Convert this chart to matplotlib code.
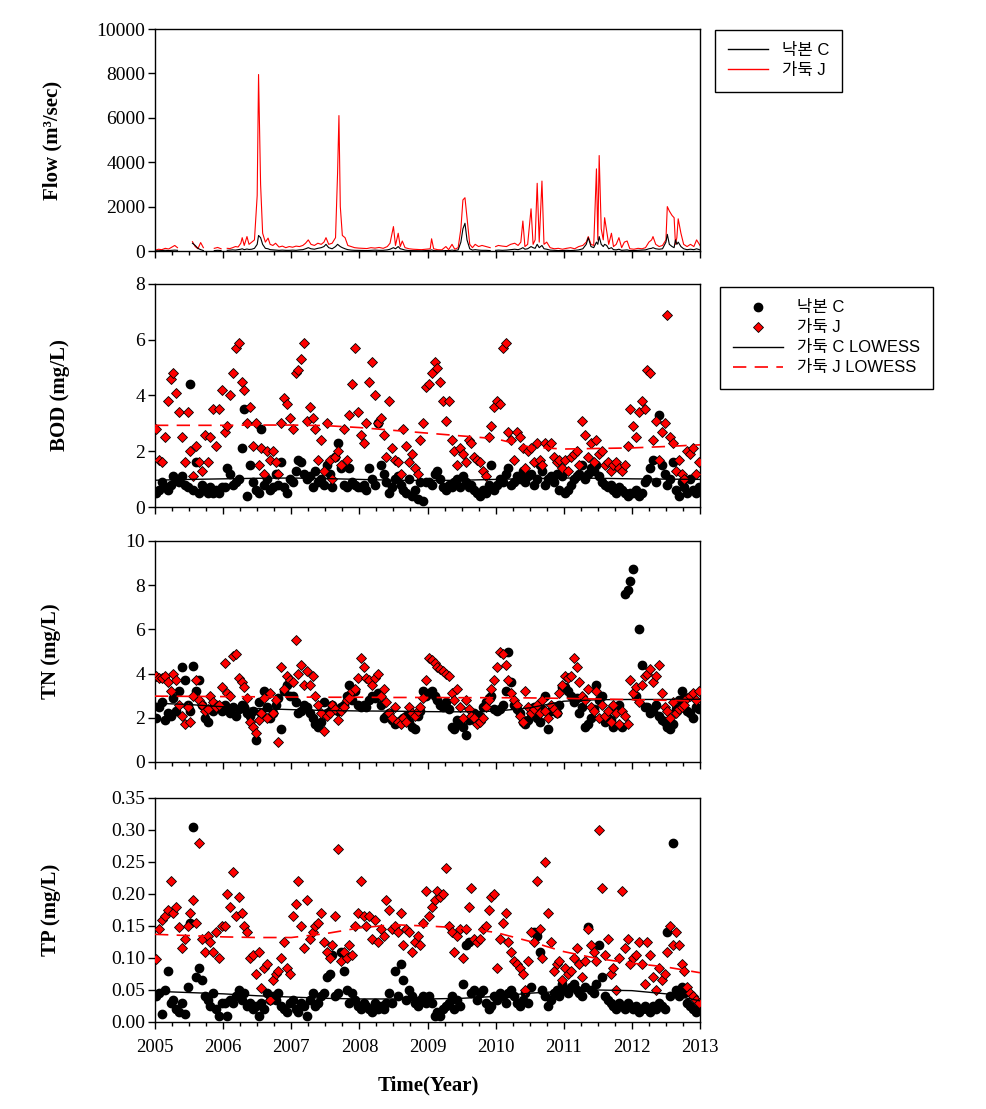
import numpy as np
import matplotlib
matplotlib.use('Agg')
import matplotlib.pyplot as plt
from matplotlib.ticker import MultipleLocator, FormatStrFormatter
from matplotlib.lines import Line2D

nan = np.nan

# ---- flow (irregular dates, nan = missing record) ----
flow_year = [
    2005.00, 2005.05, 2005.10, 2005.15, 2005.20, 2005.25, 2005.29, 2005.33, 2005.36,
    2005.55, 2005.59, 2005.63, 2005.67, 2005.71, 2005.74,
    2005.87, 2005.92, 2005.97, 2006.01,
    2006.06, 2006.10, 2006.14, 2006.18, 2006.22, 2006.26, 2006.28, 2006.31, 2006.35, 2006.38, 2006.42, 2006.46, 2006.50,
    2006.52, 2006.55, 2006.58, 2006.62, 2006.66, 2006.69, 2006.73, 2006.77, 2006.82, 2006.87, 2006.92, 2006.97,
    2007.02, 2007.07, 2007.12, 2007.17, 2007.21, 2007.25, 2007.29, 2007.34, 2007.39, 2007.44, 2007.48, 2007.51,
    2007.55, 2007.60, 2007.65, 2007.68, 2007.70, 2007.72, 2007.75, 2007.79, 2007.83, 2007.88, 2007.93, 2007.99,
    2008.05, 2008.11, 2008.17, 2008.23, 2008.29, 2008.35, 2008.41, 2008.45, 2008.50, 2008.53,
    2008.57, 2008.60, 2008.63, 2008.67, 2008.73, 2008.79, 2008.85, 2008.91, 2008.97,
    2009.04, 2009.06, 2009.09, 2009.15, 2009.21, 2009.27, 2009.31, 2009.36, 2009.40, 2009.45, 2009.49,
    2009.52, 2009.55, 2009.58, 2009.62, 2009.66, 2009.70, 2009.75, 2009.80, 2009.86, 2009.92, 2009.96,
    2010.00, 2010.04, 2010.10, 2010.16, 2010.22, 2010.28, 2010.33, 2010.37, 2010.40, 2010.43, 2010.47, 2010.52,
    2010.55, 2010.58, 2010.61, 2010.64, 2010.68, 2010.71, 2010.75, 2010.80, 2010.86, 2010.92, 2010.98,
    2011.04, 2011.10, 2011.16, 2011.22, 2011.28, 2011.33, 2011.36, 2011.40, 2011.44, 2011.48, 2011.50, 2011.52, 2011.55,
    2011.58, 2011.60, 2011.63, 2011.66, 2011.70, 2011.73, 2011.77, 2011.81, 2011.85, 2011.89, 2011.93, 2011.97,
    2012.03, 2012.09, 2012.15, 2012.20, 2012.25, 2012.29, 2012.31, 2012.35, 2012.40, 2012.45, 2012.50, 2012.52, 2012.55,
    2012.59, 2012.62, 2012.64, 2012.66, 2012.68, 2012.72, 2012.76, 2012.81, 2012.86, 2012.91, 2012.95, 2013.00,
]
flow_j = [
    30, 80, 60, 120, 90, 180, 250, 150, nan,
    420, 200, 100, 380, 150, nan,
    120, 160, 100, nan,
    120, 110, 150, 200, 180, 350, 600, 250, 650, 300, 400, 500, 2500,
    7950, 3000, 800, 400, 580, 300, 250, 350, 180, 220, 150, 200,
    170, 220, 200, 250, 350, 500, 300, 250, 350, 300, 400, 600,
    300, 350, 600, 3500, 6100, 2000, 700, 600, 250, 200, 150, 130,
    120, 110, 150, 130, 160, 120, 200, 350, 1100, 250,
    800, 200, 450, 150, 100, 80, 70, 60, 80,
    100, 550, 100, 60, 50, 200, 60, 300, 80, 150, 1000,
    2300, 2400, 1500, 300, 150, 300, 200, 250, 200, 150, nan,
    200, 250, 220, 200, 300, 350, 250, 400, 1350, 200, 300, 1900,
    300, 500, 3050, 400, 3150, 300, 400, 150, 100, 120, 80,
    120, 150, 100, 200, 250, 400, 650, 300, 250, 3700, 500, 4300, 1000,
    500, 1500, 900, 300, 800, 200, 300, 600, 150, 400, 450, 100,
    80, 120, 100, 150, 400, 500, 650, 300, 200, 250, 500, 2000, 1800,
    1600, 1500, 300, 600, 1450, 800, 300, 200, 300, 200, 500, 250,
]
flow_c = [
    5, 10, 20, 30, 20, 30, 40, 30, nan,
    350, 250, 120, 60, 20, nan,
    20, 30, 20, nan,
    30, 40, 50, 40, 60, 80, 100, 60, 90, 70, 80, 120, 300,
    700, 600, 300, 120, 100, 60, 50, 40, 30, 40, 30, 30,
    40, 30, 50, 60, 100, 150, 100, 80, 120, 150, 200, 300,
    150, 100, 200, 300, 250, 200, 150, 100, 60, 40, 30, 30,
    25, 20, 30, 40, 30, 30, 50, 80, 150, 100,
    200, 100, 80, 40, 20, 15, 15, 10, 20,
    30, 50, 20, 10, 10, 20, 15, 40, 20, 50, 400,
    1000, 1250, 500, 100, 40, 60, 40, 30, 30, 20, nan,
    30, 40, 30, 40, 60, 80, 60, 100, 150, 80, 100, 200,
    150, 120, 300, 150, 250, 100, 80, 40, 30, 20, 20,
    30, 20, 30, 50, 100, 300, 600, 200, 150, 400, 300, 650, 300,
    200, 300, 250, 100, 150, 60, 50, 80, 30, 40, 50, 20,
    20, 30, 40, 50, 100, 120, 150, 100, 80, 100, 400, 750, 300,
    200, 150, 500, 300, 400, 200, 100, 60, 80, 60, 100, 50,
]

# ---- water quality samples, twice a month, 2005-2012 ----
sample_year = 2005 + (np.arange(192) + 0.5) / 24

bod_c = [
    0.5, 0.6, 0.9, 0.7, 0.6, 0.8, 1.1, 1.0, 0.9, 1.1, 0.8, 0.7, 4.4, 0.6, 1.6, 0.5, 0.8, 0.6, 0.5, 0.7, 0.5, 0.6, 0.5, 0.7,
    0.7, 1.4, 1.2, 0.8, 0.9, 1.0, 2.1, 3.5, 0.4, 1.5, 0.9, 0.6, 0.5, 2.8, 0.8, 1.0, 0.6, 0.7, 1.2, 0.8, 1.6, 0.7, 0.5, 1.0,
    0.9, 1.3, 1.7, 1.6, 1.2, 1.0, 1.1, 0.7, 1.3, 0.9, 1.0, 0.8, 1.5, 1.2, 0.7, 1.8, 2.3, 1.4, 0.8, 0.7, 1.4, 0.9, 0.8, 0.7,
    0.7, 0.8, 0.6, 1.4, 1.0, 0.8, 3.0, 1.5, 1.2, 0.9, 0.5, 0.7, 1.0, 1.1, 0.8, 0.6, 0.5, 1.0, 0.4, 0.6, 0.3, 0.9, 0.2, 0.9,
    0.9, 0.8, 1.2, 1.3, 1.0, 0.7, 0.6, 0.8, 0.7, 0.9, 1.0, 0.7, 1.1, 0.9, 0.7, 0.8, 0.6, 0.5, 0.4, 0.6, 0.5, 0.8, 1.5, 0.6,
    0.8, 1.0, 0.9, 1.2, 1.4, 0.8, 0.9, 1.1, 1.0, 1.3, 0.9, 1.1, 1.2, 0.8, 1.0, 1.5, 1.3, 0.8, 1.0, 1.1, 0.9, 1.2, 0.6, 1.1,
    0.5, 0.6, 0.8, 1.0, 1.1, 1.2, 1.5, 1.0, 1.2, 1.4, 1.3, 1.5, 1.1, 0.9, 0.8, 0.7, 0.8, 0.6, 0.5, 0.7, 0.6, 0.5, 0.4, 0.5,
    0.5, 0.6, 0.4, 0.5, 0.9, 1.0, 1.4, 1.7, 0.9, 3.3, 1.5, 1.2, 0.8, 1.0, 1.6, 0.6, 0.4, 0.9, 0.7, 0.5, 1.0, 0.6, 0.5, 0.7,
]
bod_j = [
    2.8, 1.7, 1.6, 2.5, 3.8, 4.6, 4.8, 4.1, 3.4, 2.5, 1.6, 3.4, 2.0, 1.1, 2.2, 1.6, 1.3, 2.6, 1.6, 2.5, 3.5, 2.2, 3.5, 4.2,
    2.7, 2.9, 4.0, 4.8, 5.7, 5.9, 4.5, 4.2, 3.0, 3.6, 2.2, 3.0, 1.5, 2.1, 1.2, 2.0, 1.7, 2.0, 1.6, 1.2, 3.0, 3.9, 3.7, 3.2,
    2.8, 4.8, 4.9, 5.3, 5.9, 3.1, 3.6, 3.2, 2.8, 1.7, 2.4, 1.3, 3.0, 1.7, 1.0, 1.8, 2.0, 1.5, 2.8, 1.7, 3.3, 4.4, 5.7, 3.4,
    2.6, 2.3, 3.0, 4.5, 5.2, 4.0, 3.0, 3.2, 2.6, 1.8, 3.8, 2.1, 1.7, 1.6, 1.2, 2.8, 2.2, 1.6, 1.9, 1.4, 1.2, 2.4, 3.0, 4.3,
    4.4, 4.8, 5.2, 5.0, 4.5, 3.8, 3.1, 3.8, 2.4, 2.0, 1.5, 2.1, 1.9, 1.6, 2.4, 2.3, 1.8, 1.7, 1.6, 1.3, 1.1, 2.5, 2.9, 3.6,
    3.8, 3.7, 5.7, 5.9, 2.7, 2.4, 1.7, 2.7, 2.5, 2.1, 1.4, 2.0, 2.1, 1.6, 2.3, 1.7, 1.5, 2.3, 2.2, 2.3, 1.8, 1.6, 1.7, 1.4,
    1.7, 1.3, 1.8, 1.9, 2.0, 1.5, 3.1, 2.6, 1.8, 2.3, 1.6, 2.4, 1.9, 2.0, 1.5, 1.6, 1.3, 1.5, 1.6, 1.4, 1.3, 1.5, 2.2, 3.5,
    2.9, 2.5, 3.4, 3.8, 3.5, 4.9, 4.8, 2.4, 3.1, 1.7, 2.7, 3.0, 6.9, 2.5, 2.3, 1.3, 1.7, 1.2, 1.0, 2.0, 1.9, 2.1, 1.2, 1.6,
]
tn_c = [
    2.0, 2.5, 2.7, 1.9, 2.2, 2.1, 2.9, 2.3, 3.2, 4.3, 3.7, 2.6, 2.3, 4.35, 3.2, 3.7, 2.6, 2.0, 1.8, 2.4, 2.3, 2.6, 2.5, 2.3,
    2.6, 2.4, 2.2, 2.5, 2.1, 2.4, 2.6, 2.5, 2.2, 2.1, 2.3, 1.0, 2.7, 2.2, 3.2, 2.5, 2.0, 2.2, 2.6, 2.9, 1.5, 3.2, 3.5, 3.0,
    3.0, 2.7, 2.2, 2.3, 2.6, 2.5, 2.2, 2.0, 1.7, 1.6, 1.8, 2.7, 2.2, 2.3, 2.6, 2.4, 2.3, 2.5, 2.6, 3.0, 3.5, 2.8, 3.2, 2.6,
    2.5, 2.6, 2.5, 2.8, 3.0, 2.9, 3.1, 2.6, 2.0, 2.1, 2.2, 1.9, 1.7, 1.8, 1.9, 2.0, 2.1, 1.8, 1.6, 1.5, 2.1, 2.3, 3.2, 3.0,
    3.1, 3.2, 3.0, 2.8, 2.6, 2.5, 2.7, 2.4, 1.6, 1.5, 1.9, 1.7, 1.6, 1.2, 1.9, 2.0, 2.2, 1.8, 2.1, 2.5, 2.7, 2.9, 3.0, 2.4,
    2.3, 2.4, 2.6, 3.2, 5.0, 3.6, 2.6, 2.4, 2.2, 1.8, 1.7, 1.9, 2.2, 2.5, 2.0, 1.8, 2.4, 3.0, 1.5, 2.3, 2.5, 2.2, 2.6, 3.4,
    3.4, 3.2, 3.0, 2.7, 2.9, 2.2, 2.5, 1.6, 1.7, 2.0, 2.4, 3.5, 2.8, 3.0, 1.8, 2.0, 1.9, 1.6, 2.4, 2.6, 1.6, 7.6, 7.8, 8.2,
    8.75, 3.0, 6.0, 4.4, 2.5, 2.5, 2.2, 2.3, 2.6, 2.1, 1.9, 1.8, 1.6, 1.5, 1.7, 2.4, 2.8, 3.2, 2.9, 2.3, 2.2, 2.0, 2.5, 2.4,
]
tn_j = [
    3.9, 3.8, 3.8, 3.9, 3.6, 3.2, 4.0, 3.7, 2.6, 2.1, 1.7, 2.5, 1.8, 3.0, 3.7, 2.8, 2.6, 2.3, 2.4, 3.0, 2.7, 2.5, 2.6, 3.4,
    4.5, 3.1, 3.0, 4.8, 4.9, 3.8, 3.6, 3.4, 2.9, 1.8, 1.6, 1.3, 1.9, 2.2, 2.9, 2.0, 3.1, 2.2, 2.8, 0.9, 4.3, 3.3, 3.9, 3.7,
    3.6, 5.5, 4.0, 4.4, 3.5, 4.1, 3.5, 3.9, 3.0, 2.6, 2.2, 1.4, 2.1, 2.2, 2.6, 2.4, 1.9, 2.3, 2.5, 2.8, 2.9, 3.2, 3.3, 3.8,
    4.7, 4.3, 3.8, 3.7, 3.5, 3.8, 4.0, 3.0, 3.3, 2.7, 2.2, 2.0, 2.5, 1.8, 1.7, 2.0, 1.8, 2.5, 2.2, 2.1, 2.3, 2.5, 2.9, 3.7,
    4.7, 4.6, 4.5, 4.3, 4.2, 4.1, 4.0, 3.9, 3.1, 2.8, 3.3, 2.5, 2.0, 2.8, 2.4, 2.1, 2.0, 1.7, 1.8, 2.0, 2.5, 2.8, 3.3, 3.7,
    4.3, 5.0, 4.9, 4.4, 3.7, 3.1, 2.8, 2.6, 2.1, 1.8, 3.2, 2.5, 2.2, 2.4, 2.6, 2.2, 2.8, 2.3, 2.0, 2.6, 2.4, 2.2, 3.1, 3.5,
    3.9, 3.8, 3.9, 4.7, 4.3, 3.6, 3.0, 2.8, 3.3, 2.5, 2.3, 3.2, 2.0, 2.6, 2.1, 2.3, 1.8, 2.6, 2.2, 1.7, 2.3, 2.1, 1.7, 3.7,
    3.1, 3.4, 2.7, 3.5, 3.9, 4.0, 4.2, 3.6, 3.9, 4.4, 3.1, 2.5, 2.3, 2.0, 2.7, 2.2, 2.4, 2.5, 2.6, 2.9, 3.0, 3.1, 2.8, 3.2,
]
tp_c = [
    0.04, 0.045, 0.012, 0.05, 0.08, 0.03, 0.035, 0.02, 0.015, 0.03, 0.012, 0.055, 0.155, 0.305, 0.07, 0.085, 0.065, 0.04, 0.035, 0.025, 0.045, 0.02, 0.01, 0.03,
    0.03, 0.01, 0.035, 0.03, 0.04, 0.05, 0.035, 0.045, 0.025, 0.03, 0.02, 0.025, 0.01, 0.03, 0.02, 0.045, 0.035, 0.04, 0.035, 0.045, 0.025, 0.02, 0.015, 0.03,
    0.035, 0.02, 0.015, 0.03, 0.025, 0.01, 0.035, 0.045, 0.025, 0.03, 0.04, 0.045, 0.07, 0.075, 0.105, 0.04, 0.045, 0.11, 0.08, 0.05, 0.03, 0.045, 0.035, 0.025,
    0.02, 0.03, 0.025, 0.02, 0.015, 0.03, 0.02, 0.025, 0.02, 0.03, 0.045, 0.03, 0.08, 0.04, 0.09, 0.065, 0.035, 0.05, 0.04, 0.03, 0.025, 0.035, 0.04, 0.03,
    0.04, 0.03, 0.01, 0.015, 0.01, 0.02, 0.025, 0.03, 0.04, 0.02, 0.035, 0.025, 0.06, 0.12, 0.125, 0.045, 0.05, 0.035, 0.045, 0.05, 0.03, 0.02, 0.025, 0.04,
    0.035, 0.045, 0.04, 0.03, 0.045, 0.05, 0.04, 0.03, 0.025, 0.035, 0.045, 0.03, 0.055, 0.14, 0.135, 0.11, 0.05, 0.04, 0.025, 0.035, 0.045, 0.05, 0.04, 0.06,
    0.05, 0.045, 0.055, 0.06, 0.05, 0.045, 0.04, 0.055, 0.148, 0.05, 0.045, 0.06, 0.12, 0.07, 0.04, 0.035, 0.03, 0.025, 0.02, 0.03, 0.025, 0.02, 0.03, 0.025,
    0.02, 0.025, 0.015, 0.02, 0.025, 0.02, 0.015, 0.025, 0.02, 0.03, 0.025, 0.02, 0.14, 0.04, 0.28, 0.05, 0.04, 0.055, 0.045, 0.03, 0.025, 0.02, 0.015, 0.02,
]
tp_j = [
    0.098, 0.145, 0.16, 0.165, 0.175, 0.22, 0.17, 0.18, 0.148, 0.115, 0.13, 0.15, 0.17, 0.19, 0.155, 0.28, 0.13, 0.11, 0.135, 0.125, 0.11, 0.14, 0.10, 0.15,
    0.15, 0.2, 0.18, 0.235, 0.165, 0.195, 0.17, 0.15, 0.14, 0.10, 0.105, 0.075, 0.11, 0.053, 0.085, 0.09, 0.035, 0.065, 0.075, 0.08, 0.10, 0.125, 0.085, 0.075,
    0.165, 0.185, 0.22, 0.15, 0.115, 0.19, 0.13, 0.14, 0.15, 0.155, 0.17, 0.125, 0.11, 0.10, 0.12, 0.165, 0.27, 0.095, 0.11, 0.10, 0.12, 0.105, 0.15, 0.17,
    0.22, 0.165, 0.15, 0.165, 0.13, 0.16, 0.125, 0.145, 0.135, 0.19, 0.175, 0.145, 0.15, 0.14, 0.17, 0.12, 0.145, 0.14, 0.11, 0.125, 0.135, 0.12, 0.155, 0.205,
    0.165, 0.18, 0.19, 0.205, 0.195, 0.20, 0.24, 0.15, 0.14, 0.11, 0.135, 0.145, 0.10, 0.145, 0.18, 0.21, 0.13, 0.125, 0.13, 0.145, 0.15, 0.175, 0.195, 0.20,
    0.085, 0.13, 0.155, 0.17, 0.125, 0.11, 0.095, 0.09, 0.085, 0.075, 0.05, 0.095, 0.14, 0.125, 0.22, 0.145, 0.10, 0.25, 0.17, 0.125, 0.08, 0.09, 0.095, 0.065,
    0.085, 0.075, 0.08, 0.10, 0.115, 0.09, 0.07, 0.095, 0.145, 0.12, 0.11, 0.095, 0.30, 0.21, 0.105, 0.13, 0.075, 0.085, 0.05, 0.10, 0.205, 0.115, 0.13, 0.09,
    0.10, 0.105, 0.125, 0.09, 0.06, 0.125, 0.105, 0.07, 0.05, 0.085, 0.065, 0.075, 0.11, 0.15, 0.12, 0.14, 0.12, 0.09, 0.08, 0.055, 0.045, 0.04, 0.035, 0.03,
]

# ---- LOWESS trend lines, every half year ----
lowess_year = [2005, 2005.5, 2006, 2006.5, 2007, 2007.5, 2008, 2008.5, 2009,
               2009.5, 2010, 2010.5, 2011, 2011.5, 2012, 2012.5, 2013]
bod_c_lowess = [0.96, 0.99, 1.01, 1.03, 1.04, 1.02, 0.99, 0.96, 0.95, 0.96, 0.99, 1.02, 1.04, 1.03, 1.01, 1.0, 0.99]
bod_j_lowess = [2.93, 2.93, 2.93, 2.94, 2.94, 2.92, 2.85, 2.75, 2.65, 2.55, 2.45, 2.15, 2.08, 2.1, 2.12, 2.17, 2.23]
tn_c_lowess = [2.66, 2.6, 2.5, 2.42, 2.37, 2.33, 2.31, 2.3, 2.28, 2.27, 2.3, 2.45, 2.75, 2.82, 2.83, 2.83, 2.84]
tn_j_lowess = [2.98, 2.97, 2.96, 2.95, 2.94, 2.93, 2.93, 2.92, 2.92, 2.91, 2.91, 2.9, 2.88, 2.85, 2.82, 2.79, 2.76]
tp_c_lowess = [0.048, 0.046, 0.044, 0.041, 0.039, 0.037, 0.036, 0.036, 0.036, 0.037, 0.04, 0.045, 0.048, 0.05, 0.049, 0.044, 0.033]
tp_j_lowess = [0.137, 0.135, 0.133, 0.132, 0.132, 0.138, 0.147, 0.152, 0.15, 0.147, 0.14, 0.126, 0.11, 0.099, 0.092, 0.086, 0.077]

label_c = '낙본 C'
label_j = '가둑 J'
legend_font = {'family': ['Liberation Sans', 'Noto Sans CJK KR'], 'size': 12}

plt.rcParams['font.family'] = ['Liberation Serif', 'Noto Sans CJK KR']

W, H = 987, 1109
fig = plt.figure(figsize=(W / 100, H / 100), dpi=100)


def make_axes(top, bottom):
    ax = fig.add_axes([155 / W, 1 - bottom / H, 545 / W, (bottom - top) / H])
    ax.set_xlim(2005, 2013)
    ax.xaxis.set_major_locator(MultipleLocator(1))
    ax.xaxis.set_minor_locator(MultipleLocator(0.25))
    ax.xaxis.set_major_formatter(FormatStrFormatter('%d'))
    ax.tick_params(which='major', direction='out', length=5, width=1, labelsize=14, pad=2)
    ax.tick_params(axis='x', which='major', labelsize=13.5, pad=7)
    ax.tick_params(axis='x', which='minor', direction='out', length=3, width=1)
    ax.tick_params(labelbottom=False)
    for s in ax.spines.values():
        s.set_linewidth(1)
    return ax


def ylabel(ax, text, xpix):
    ax.set_ylabel(text, fontsize=15, fontweight='bold')
    ax.yaxis.set_label_coords((xpix - 155) / 545, 0.5)


def quality_panel(ax, c, j, c_low, j_low):
    ax.plot(sample_year, c, 'o', color='black', ms=6, zorder=2)
    ax.plot(sample_year, j, 'D', mfc='red', mec='black', mew=0.6, ms=5, zorder=3)
    ax.plot(lowess_year, c_low, color='black', lw=1, zorder=4)
    ax.plot(lowess_year, j_low, color='red', lw=1.2, dashes=(8, 5), zorder=4)


# Flow
ax1 = make_axes(29, 251)
ax1.plot(flow_year, flow_j, color='red', lw=0.8)
ax1.plot(flow_year, flow_c, color='black', lw=0.8)
ax1.set_ylim(0, 10000)
ax1.yaxis.set_major_locator(MultipleLocator(2000))
ylabel(ax1, 'Flow (m³/sec)', 62)
ax1.legend([Line2D([], [], color='black', lw=1), Line2D([], [], color='red', lw=1)],
           [label_c, label_j], loc='upper left',
           bbox_to_anchor=(715 / W, 1 - 30 / H), bbox_transform=fig.transFigure,
           borderaxespad=0, prop=legend_font, fancybox=False, edgecolor='black',
           framealpha=1, handlelength=2.4, labelspacing=0.3, borderpad=0.8)

# BOD
ax2 = make_axes(284, 507)
quality_panel(ax2, bod_c, bod_j, bod_c_lowess, bod_j_lowess)
ax2.set_ylim(0, 8)
ax2.yaxis.set_major_locator(MultipleLocator(2))
ylabel(ax2, 'BOD (mg/L)', 70)
handles = [
    Line2D([], [], ls='none', marker='o', color='black', ms=6),
    Line2D([], [], ls='none', marker='D', mfc='red', mec='black', mew=0.6, ms=5),
    Line2D([], [], color='black', lw=1),
    Line2D([], [], color='red', lw=1.2, dashes=(8, 5)),
]
ax2.legend(handles, [label_c, label_j, '가둑 C LOWESS', '가둑 J LOWESS'], loc='upper left',
           bbox_to_anchor=(720 / W, 1 - 287 / H), bbox_transform=fig.transFigure,
           borderaxespad=0, prop=legend_font, fancybox=False, edgecolor='black',
           framealpha=1, handlelength=3.0, labelspacing=0.3, borderpad=0.8)

# TN
ax3 = make_axes(541, 762)
quality_panel(ax3, tn_c, tn_j, tn_c_lowess, tn_j_lowess)
ax3.set_ylim(0, 10)
ax3.yaxis.set_major_locator(MultipleLocator(2))
ylabel(ax3, 'TN (mg/L)', 61)

# TP
ax4 = make_axes(798, 1022)
quality_panel(ax4, tp_c, tp_j, tp_c_lowess, tp_j_lowess)
ax4.set_ylim(0, 0.35)
ax4.yaxis.set_major_locator(MultipleLocator(0.05))
ax4.yaxis.set_major_formatter(FormatStrFormatter('%.2f'))
ax4.tick_params(labelbottom=True)
ylabel(ax4, 'TP (mg/L)', 61)

fig.text(428 / W, 1 - 1085 / H, 'Time(Year)', ha='center', va='center',
         fontsize=15, fontweight='bold')

fig.savefig('out.png', dpi=100)
